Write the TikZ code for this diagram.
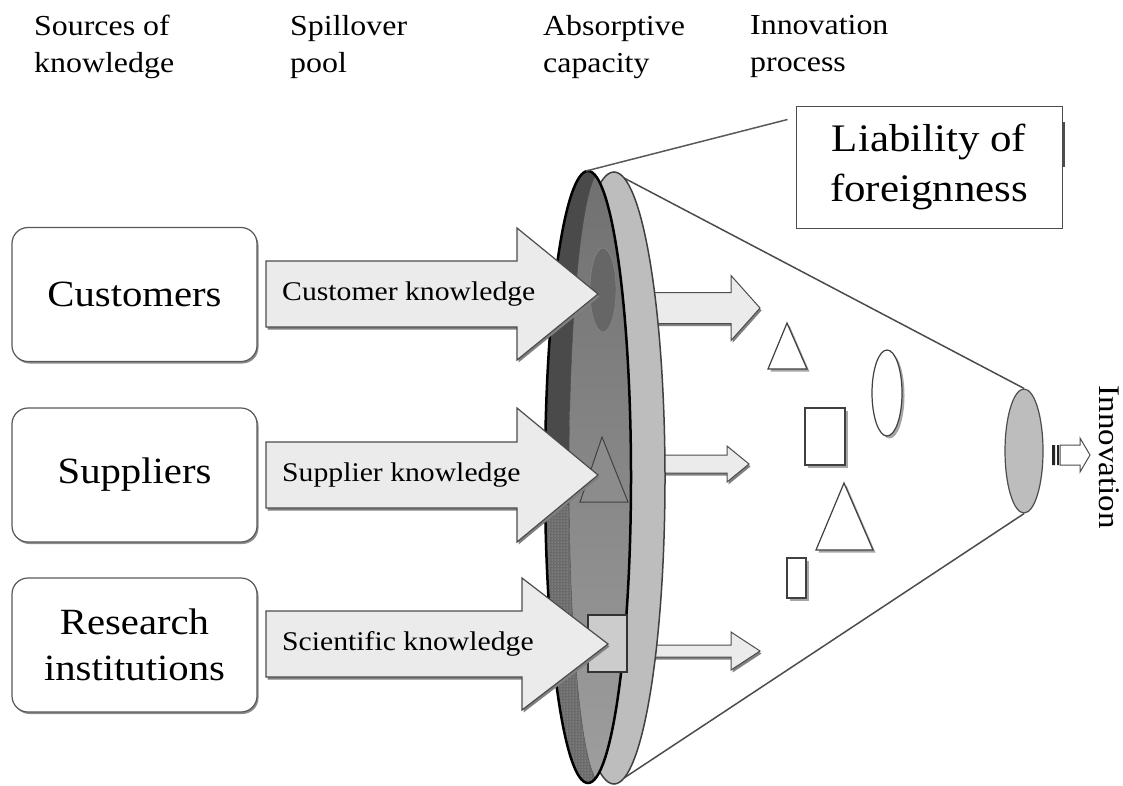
\documentclass[tikz,border=0pt]{standalone}
\usepackage{fontspec}
\setmainfont[FakeStretch=1.1]{Liberation Serif}
\usetikzlibrary{shapes.geometric,shadows,patterns,calc}
\definecolor{rimgray}{HTML}{BDBDBD}
\definecolor{diskdark}{HTML}{4A4A4A}
\definecolor{arrowfill}{HTML}{EBEBEB}
% block arrow: style, x start, x head, x tip, y centre, half shaft, half head
\newcommand{\blockarrow}[7]{%
  \draw[#1] (#2,#5-#6) -- (#3,#5-#6) -- (#3,#5-#7) -- (#4,#5) -- (#3,#5+#7) -- (#3,#5+#6) -- (#2,#5+#6) -- cycle;}
\begin{document}
\begin{tikzpicture}[x=1pt,y=-1pt,
    toplbl/.style={anchor=north west,inner sep=0pt,align=left,font=\fontsize{29}{37}\selectfont},
    srcbox/.style={draw=black!65,fill=white,line width=1.2pt,rounded corners=16pt,minimum width=245pt,minimum height=134pt,align=center,font=\fontsize{37}{46}\selectfont,drop shadow={shadow xshift=1.5pt,shadow yshift=-2pt,fill=black!45,opacity=1}},
    flowlbl/.style={anchor=west,inner sep=0pt,font=\fontsize{27}{32}\selectfont},
    bigarrow/.style={fill=arrowfill,draw=black!70,line width=1.2pt,drop shadow={shadow xshift=1.5pt,shadow yshift=-2.5pt,fill=black!50,opacity=1}},
    figshape/.style={fill=white,draw=black!75,line width=1.2pt,drop shadow={shadow xshift=2.5pt,shadow yshift=-2.5pt,fill=black!35,opacity=1}}]
  \useasboundingbox (0,0) rectangle (1123,785);
  % cone
  \coordinate (rimtop) at (624,178); \coordinate (rimbot) at (624,778);
  \coordinate (disktop) at (586,171);
  \node[ellipse,draw=black!70,fill=rimgray,line width=1.2pt,minimum width=38pt,minimum height=124pt,inner sep=0pt] (apex) at (1024,451) {};
  \draw[black!70,line width=1.5pt] (rimtop) -- (apex.north) (rimbot) -- (apex.south);
  % arrows leaving the disk
  \blockarrow{bigarrow,line width=1pt}{640}{731}{760}{308}{15.5}{32.5}
  \blockarrow{bigarrow,line width=1pt}{640}{727}{749}{464}{9}{18}
  \blockarrow{bigarrow,line width=1pt}{640}{731}{760}{651}{6}{19}
  % absorptive capacity disk
  \draw[fill=rimgray,draw=black!75,line width=1.5pt] (614,478) ellipse [x radius=51,y radius=306];
  \fill[diskdark] (588,477) ellipse [x radius=43,y radius=306];
  \begin{scope}
    \clip (588,477) ellipse [x radius=43,y radius=306];
    \fill[black!58] (540,505) rectangle (640,790);
    \fill[pattern=dots,pattern color=black!25] (540,505) rectangle (640,790);
    \shade[top color=black!56,bottom color=black!38,draw=black!70] (601,477) ellipse [x radius=32,y radius=306];
  \end{scope}
  \draw[line width=2.5pt] (588,477) ellipse [x radius=43,y radius=306];
  \draw[fill=black!60,draw=black!45] (603,290) ellipse [x radius=13,y radius=42];
  \draw[fill=black!45,draw=black!75,line width=1pt] (602,437) -- (628,502) -- (580,502) -- cycle;
  \draw[fill=black!20,draw=black!80,line width=1.2pt] (588,615) rectangle (627,672);
  % spillover arrows
  \blockarrow{bigarrow}{266}{517}{598}{294}{33}{66}
  \blockarrow{bigarrow}{266}{517}{598}{475}{33}{67}
  \blockarrow{bigarrow}{266}{522}{608}{644}{33}{66}
  \node[flowlbl] (custk) at (282,294) {Customer knowledge};
  \node[flowlbl] (suppk) at (282,475) {Supplier knowledge};
  \node[flowlbl] (scik) at (282,644) {Scientific knowledge};
  % sources
  \node[srcbox] (cust) at (134.5,294.5) {Customers};
  \node[srcbox] (supp) at (134.5,475) {Suppliers};
  \node[srcbox] (res) at (134.5,645) {Research\\institutions};
  % innovation process
  \draw[figshape] (787,323) -- (807,369) -- (768,369) -- cycle;
  \draw[figshape] (887,393) ellipse [x radius=15,y radius=43];
  \draw[figshape] (805,408) rectangle (845,465);
  \draw[figshape] (844,483) -- (873,550) -- (816,550) -- cycle;
  \draw[figshape] (787,558) rectangle (806,598);
  % liability of foreignness
  \node[draw=black!70,line width=1pt,fill=white,minimum width=266pt,minimum height=122pt,align=center,font=\fontsize{39}{50}\selectfont] (lof) at (929,167) {Liability of\\foreignness};
  \fill[black!70] (1062,122) rectangle (1065,167);
  \draw[black!65,line width=1.5pt] (disktop) -- ($(lof.north west)+(-8,14)$);
  % output
  \fill[black!85] (1052,445) rectangle (1055,465) (1057,445) rectangle (1059,465);
  \draw[fill=white,draw=black!70,line width=1pt] (1060,445) -- (1080,445) -- (1080,438) -- (1090,455) -- (1080,472) -- (1080,465) -- (1060,465) -- cycle;
  \node[rotate=-90,font=\fontsize{30}{36}\selectfont,inner sep=0pt] (innov) at (1109,457) {Innovation};
  % column headings
  \node[toplbl] (src) at (34,15) {Sources of\\knowledge};
  \node[toplbl] (pool) at (290,15) {Spillover\\pool};
  \node[toplbl] (absorb) at (543,15) {Absorptive\\capacity};
  \node[toplbl] (proc) at (750,15) {Innovation\\process};
\end{tikzpicture}
\end{document}
